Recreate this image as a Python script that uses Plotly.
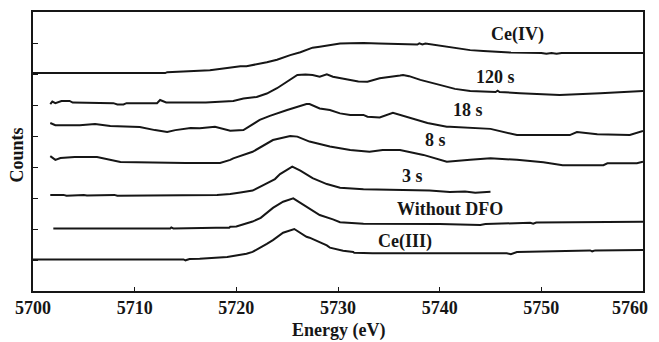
import plotly.graph_objects as go

# Energy (eV) and stacked counts (arbitrary, offset) for each spectrum
ce4_e = [5700, 5713.0, 5713.2, 5716.4, 5717.4, 5719.1, 5720.4, 5721.0, 5722.3, 5723.0, 5724.0,
         5724.6, 5725.3, 5726.3, 5727.0, 5727.5, 5728.2, 5728.9, 5729.5, 5730.2, 5731.2, 5732.5,
         5734.0, 5736.0, 5737.5, 5737.8, 5738.0, 5738.3, 5738.6, 5739.0, 5740.0, 5741.0, 5742.0,
         5743.0, 5744.3, 5745.6, 5747.0, 5750.0, 5750.5, 5751.0, 5751.5, 5752.0, 5760]
ce4_v = [7.03, 7.03, 7.06, 7.09, 7.12, 7.19, 7.25, 7.25, 7.33, 7.38, 7.46,
         7.53, 7.61, 7.70, 7.79, 7.85, 7.88, 7.92, 7.95, 7.98, 7.99, 8.00,
         7.98, 7.97, 7.97, 7.95, 7.99, 7.95, 7.98, 7.96, 7.92, 7.87, 7.81,
         7.77, 7.74, 7.71, 7.69, 7.68, 7.65, 7.68, 7.65, 7.68, 7.68]

s120_e = [5701.7, 5701.9, 5702.2, 5702.8, 5703.6, 5703.9, 5707.9, 5708.3, 5708.9, 5709.2, 5712.2,
          5712.5, 5713.1, 5717.0, 5719.7, 5720.7, 5722.0, 5723.0, 5724.0, 5725.0, 5726.0, 5726.8,
          5727.5, 5728.2, 5728.9, 5729.5, 5731.2, 5732.0, 5732.9, 5734.1, 5736.1, 5736.4, 5737.0,
          5738.1, 5740.0, 5741.5, 5743.0, 5745.5, 5745.7, 5745.9, 5747.9, 5751.8, 5755.8, 5757.7, 5760]
s120_v = [6.03, 6.11, 6.06, 6.13, 6.13, 6.08, 6.06, 6.02, 6.02, 6.06, 6.06,
          6.16, 6.08, 6.08, 6.13, 6.21, 6.26, 6.37, 6.54, 6.75, 6.97, 6.98,
          6.97, 6.91, 6.99, 6.91, 6.81, 6.76, 6.75, 6.86, 6.95, 6.97, 6.93,
          6.81, 6.65, 6.52, 6.45, 6.42, 6.46, 6.42, 6.38, 6.32, 6.38, 6.42, 6.45]

s18_e = [5701.7, 5702.2, 5704.6, 5706.1, 5707.6, 5710.5, 5712.0, 5713.2, 5714.0, 5715.5, 5716.4,
         5717.9, 5719.4, 5720.7, 5722.3, 5723.3, 5725.0, 5726.9, 5727.2, 5728.2, 5729.2, 5730.2,
         5731.2, 5732.5, 5732.9, 5734.1, 5735.4, 5736.8, 5737.8, 5738.8, 5740.7, 5741.0, 5745.0,
         5747.6, 5752.8, 5753.5, 5755.5, 5758.7, 5760]
s18_v = [5.42, 5.35, 5.35, 5.39, 5.32, 5.29, 5.19, 5.13, 5.19, 5.26, 5.25,
         5.30, 5.17, 5.19, 5.52, 5.65, 5.84, 6.03, 6.03, 5.89, 5.84, 5.73,
         5.68, 5.68, 5.62, 5.60, 5.75, 5.62, 5.52, 5.42, 5.30, 5.30, 5.23,
         5.03, 5.03, 5.13, 5.06, 5.03, 5.16]

s8_e = [5701.7, 5702.2, 5702.7, 5704.1, 5706.3, 5707.6, 5708.6, 5715.0, 5718.4, 5719.4, 5719.7,
        5721.6, 5723.6, 5725.3, 5726.0, 5727.2, 5728.9, 5729.2, 5731.2, 5733.1, 5734.4, 5736.1,
        5738.4, 5740.7, 5743.0, 5745.0, 5747.6, 5750.2, 5752.1, 5756.1, 5756.5, 5759.4, 5760]
s8_v = [4.35, 4.23, 4.29, 4.32, 4.32, 4.23, 4.16, 4.13, 4.13, 4.23, 4.28,
        4.49, 4.87, 5.00, 4.98, 4.82, 4.68, 4.66, 4.55, 4.49, 4.55, 4.55,
        4.39, 4.17, 4.23, 4.28, 4.23, 4.15, 4.06, 4.06, 4.12, 4.12, 4.17]

s3_e = [5701.7, 5703.0, 5703.3, 5705.0, 5705.3, 5708.0, 5708.3, 5711.0, 5711.3, 5718.1, 5719.4,
        5720.4, 5721.6, 5722.8, 5723.8, 5724.3, 5725.5, 5726.3, 5727.5, 5728.9, 5730.2, 5732.5,
        5736.0, 5739.0, 5741.0, 5742.5, 5743.5, 5745.0]
s3_v = [3.10, 3.10, 3.07, 3.10, 3.08, 3.10, 3.07, 3.10, 3.08, 3.10, 3.13,
        3.18, 3.24, 3.44, 3.61, 3.77, 4.01, 3.88, 3.64, 3.45, 3.33, 3.28,
        3.27, 3.24, 3.19, 3.21, 3.17, 3.20]

wdfo_e = [5702.0, 5713.5, 5713.6, 5713.8, 5718.0, 5719.3, 5719.4, 5720.0, 5721.6, 5722.4, 5723.6,
          5724.6, 5725.6, 5726.9, 5728.2, 5729.5, 5730.2, 5732.5, 5740.0, 5744.0, 5744.5, 5748.9,
          5749.2, 5749.5, 5760]
wdfo_v = [2.02, 2.02, 2.05, 2.02, 2.04, 2.04, 2.07, 2.08, 2.24, 2.36, 2.68,
          2.88, 2.99, 2.72, 2.45, 2.31, 2.22, 2.17, 2.16, 2.13, 2.16, 2.20,
          2.17, 2.21, 2.23]

ce3_e = [5700, 5714.8, 5715.0, 5715.4, 5716.4, 5719.1, 5721.0, 5721.6, 5723.0, 5723.6, 5724.6,
         5725.7, 5726.9, 5727.2, 5728.9, 5729.2, 5730.5, 5731.5, 5731.6, 5733.4, 5746.6, 5747.0,
         5747.6, 5752.1, 5754.8, 5755.0, 5755.3, 5760]
ce3_v = [1.02, 1.02, 0.99, 1.03, 1.04, 1.10, 1.20, 1.26, 1.52, 1.64, 1.88,
         2.00, 1.75, 1.72, 1.47, 1.40, 1.30, 1.26, 1.23, 1.22, 1.22, 1.19,
         1.26, 1.29, 1.31, 1.28, 1.31, 1.32]

labels = ["Ce(IV)", "120 s", "18 s", "8 s", "3 s", "Without DFO", "Ce(III)"]
label_e = [5747.7, 5745.5, 5742.8, 5739.6, 5737.3, 5741.0, 5736.6]
label_v = [8.29, 6.89, 5.84, 4.87, 3.71, 2.64, 1.61]

x_ticks = [5700, 5710, 5720, 5730, 5740, 5750, 5760]

series = [(ce4_e, ce4_v), (s120_e, s120_v), (s18_e, s18_v), (s8_e, s8_v),
          (s3_e, s3_v), (wdfo_e, wdfo_v), (ce3_e, ce3_v)]

FONT = "Liberation Serif"
INK = "#161616"
fig = go.Figure()
for (e, v), name in zip(series, labels):
    fig.add_trace(go.Scatter(x=e, y=v, mode="lines", name=name,
                             line=dict(color=INK, width=2), showlegend=False))

for t, e, v in zip(labels, label_e, label_v):
    fig.add_annotation(x=e, y=v, text="<b>%s</b>" % t, showarrow=False,
                       font=dict(family=FONT, size=18, color=INK))

fig.add_annotation(xref="paper", yref="paper", x=0.5, y=-0.142, yanchor="middle",
                   text="<b>Energy (eV)</b>", showarrow=False,
                   font=dict(family=FONT, size=18, color=INK))
fig.add_annotation(xref="paper", yref="paper", x=-0.026, xanchor="center", y=0.486,
                   text="<b>Counts</b>", textangle=-90, showarrow=False,
                   font=dict(family=FONT, size=18, color=INK))

# tick texts; the last label is right-aligned near its tick so it stays inside the page
tick_text = ["<b>%d</b>" % t for t in x_ticks]
tick_text[-1] = ""
fig.add_annotation(xref="x", yref="paper", x=x_ticks[-1], xanchor="right", xshift=7,
                   y=-0.061, yanchor="middle", text="<b>%d</b>" % x_ticks[-1],
                   showarrow=False, font=dict(family=FONT, size=18, color=INK))

# page body has an 8px default margin; compensate so the plot area lands at x 33-643, y 12-291
fig.update_layout(
    width=651, height=334,
    margin=dict(l=25, r=16, t=4, b=51, autoexpand=False),
    paper_bgcolor="white", plot_bgcolor="white",
    font=dict(family=FONT, size=18, color=INK),
)
fig.update_xaxes(range=[5700, 5760], tickvals=x_ticks, ticktext=tick_text,
                 ticklabeloverflow="allow", automargin=False,
                 ticks="inside", ticklen=4, tickcolor=INK, tickwidth=1,
                 showline=True, linecolor=INK, linewidth=1.5, mirror=True,
                 showgrid=False, zeroline=False)
fig.update_yaxes(range=[0, 9], dtick=1, showticklabels=False, automargin=False,
                 ticks="inside", ticklen=5, tickcolor=INK, tickwidth=1,
                 showline=True, linecolor=INK, linewidth=1.5, mirror=True,
                 showgrid=False, zeroline=False)

fig.write_html("out.html")
